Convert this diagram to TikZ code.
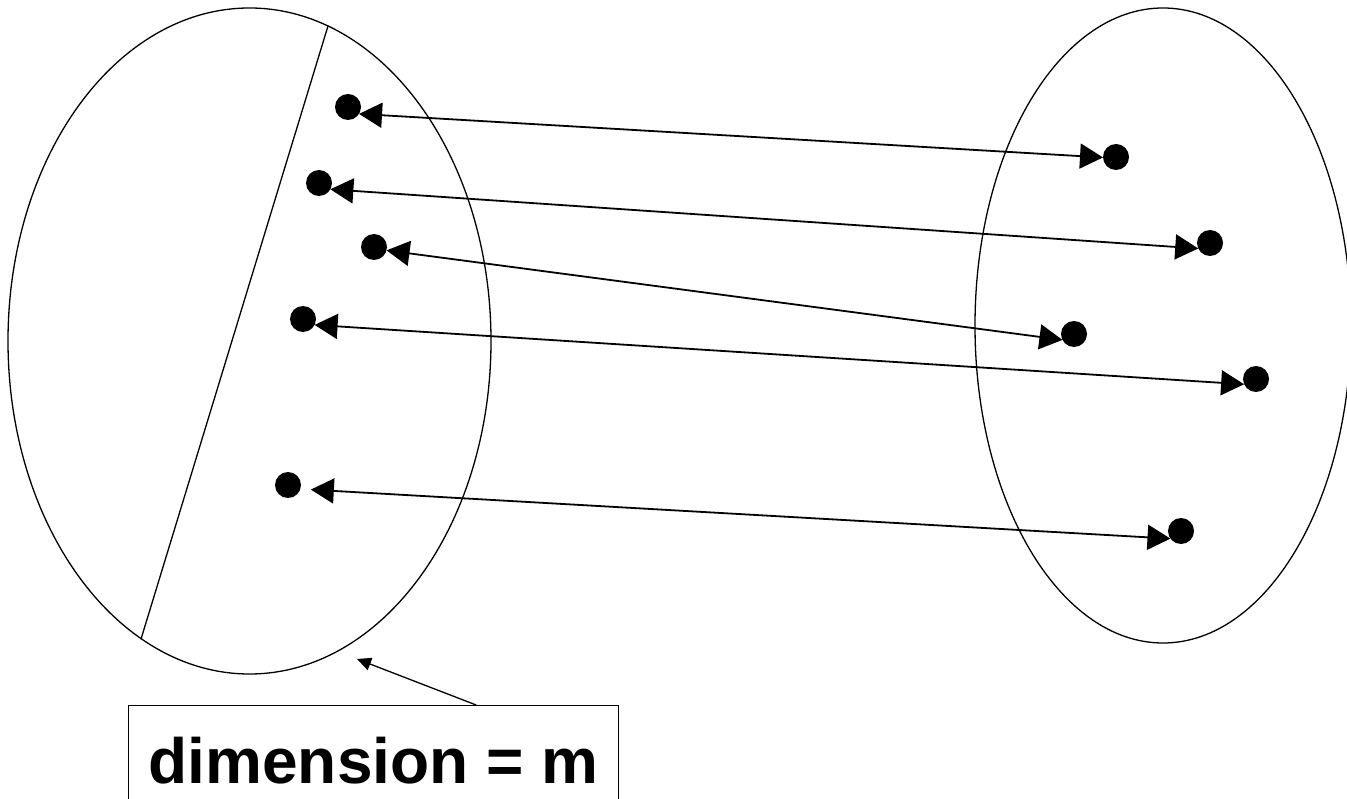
\documentclass[tikz,border=0pt]{standalone}
\usepackage{fontspec}
\setmainfont{Liberation Sans}
\usetikzlibrary{arrows.meta,shapes.geometric,calc}
\begin{document}
\begin{tikzpicture}[x=1pt,y=-1pt,
  setshape/.style={ellipse,draw,line width=1.3pt,inner sep=0pt},
  dot/.style={circle,fill=black,minimum size=26pt,inner sep=0pt,outer sep=0pt},
  link/.style={line width=1.8pt,{Triangle[length=23pt,width=25pt]}-{Triangle[length=23pt,width=25pt]}},
  tagbox/.style={draw,line width=1.3pt,minimum width=490pt,minimum height=108pt,
    text height=48pt,text depth=0pt,inner sep=0pt,anchor=north,
    font=\bfseries\fontsize{64}{72}\selectfont},
  pointer/.style={line width=1.3pt,-{Triangle[length=14pt,width=13pt]}}]
\useasboundingbox (0,0) rectangle (1347,799);
\clip (0,0) rectangle (1347,799);

% the two sets
\node[setshape,minimum width=483pt,minimum height=666pt] (dom) at (249.5,341) {};
\node[setshape,minimum width=376pt,minimum height=635pt] (cod) at (1163,325.5) {};
\draw[line width=1.3pt] (dom.76.6) -- (dom.250.5);

% points of the left set
\node[dot] (l1) at (348,107) {};
\node[dot] (l2) at (319,183) {};
\node[dot] (l3) at (374,247) {};
\node[dot] (l4) at (303,319) {};
\node[dot] (l5) at (288,485) {};

% points of the right set
\node[dot] (r1) at (1116,157) {};
\node[dot] (r2) at (1210,243) {};
\node[dot] (r3) at (1074,334) {};
\node[dot] (r4) at (1256,379) {};
\node[dot] (r5) at (1181,531) {};

% correspondences
\draw[link] (l1.-32) -- (r1.182);
\draw[link] (l2.-29) -- (r2.205);
\draw[link] (l3.-15) -- (r3.207);
\draw[link] (l4.-27) -- (r4.204);
\draw[link,shorten <=10.5pt] (l5.-18) -- (r5.216);

% label
\node[tagbox] (tag) at (373.5,705) {dimension = m};
\coordinate (aim) at (357,659);
\draw[pointer] ($(tag.north west)!0.709!(tag.north east)$) -- (aim);
\end{tikzpicture}
\end{document}
